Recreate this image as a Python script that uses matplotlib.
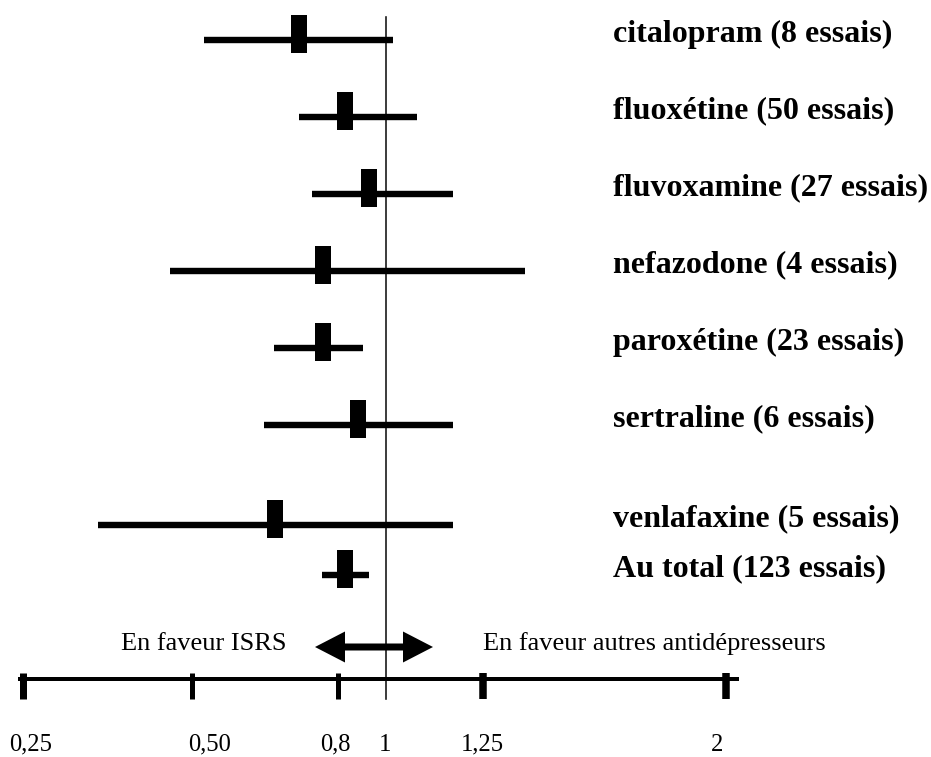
import numpy as np
import matplotlib
matplotlib.use("Agg")
import matplotlib.pyplot as plt
from matplotlib.path import Path
from matplotlib.patches import FancyArrowPatch
from matplotlib.ticker import NullLocator
from matplotlib.transforms import ScaledTranslation

# ---------------- data ----------------
drugs = ['citalopram', 'fluoxétine', 'fluvoxamine', 'nefazodone',
         'paroxétine', 'sertraline', 'venlafaxine', 'Au total']
n_trials = [8, 50, 27, 4, 23, 6, 5, 123]
estimate = [0.72, 0.83, 0.93, 0.77, 0.77, 0.885, 0.67, 0.83]
ci_low = [0.525, 0.72, 0.747, 0.467, 0.668, 0.648, 0.361, 0.767]
ci_high = [1.018, 1.08, 1.173, 1.38, 0.904, 1.173, 1.173, 0.929]
tick_vals = [0.25, 0.5, 0.8, 1.0, 1.25, 2.0]
tick_labels = ['0,25', '0,50', '0,8', '1', '1,25', '2']
left_note = 'En faveur ISRS'
right_note = 'En faveur autres antidépresseurs'

# ---------------- layout ----------------
W, H, DPI = 931, 757, 100
PX = 72.0 / DPI                      # points per pixel
row_pos = [0, 1, 2, 3, 4, 5, 6.3, 6.95]
ROW_PX = 77.0                        # pixels per row unit
ROW0_PX = 40.0                       # pixel y of row 0
AX_LEFT_PX, AX_RIGHT_PX, AX_BOTTOM_PX = 20, 737, 679

# hand-drawn (non-uniform) axis: piecewise-linear scale
scale_px = np.array([23, 192, 338, 386, 483, 726], float)
scale_v = np.array(tick_vals, float)
s0 = (scale_px[1] - scale_px[0]) / (scale_v[1] - scale_v[0])
s1 = (scale_px[-1] - scale_px[-2]) / (scale_v[-1] - scale_v[-2])


def fwd(v):
    v = np.asarray(v, float)
    out = np.interp(v, scale_v, scale_px)
    out = np.where(v < scale_v[0], scale_px[0] + (v - scale_v[0]) * s0, out)
    out = np.where(v > scale_v[-1], scale_px[-1] + (v - scale_v[-1]) * s1, out)
    return out


def inv(p):
    p = np.asarray(p, float)
    out = np.interp(p, scale_px, scale_v)
    out = np.where(p < scale_px[0], scale_v[0] + (p - scale_px[0]) / s0, out)
    out = np.where(p > scale_px[-1], scale_v[-1] + (p - scale_px[-1]) / s1, out)
    return out


def row_of_px(py):
    return (py - ROW0_PX) / ROW_PX


plt.rcParams['font.family'] = ['Liberation Serif', 'DejaVu Serif']

fig = plt.figure(figsize=(W / DPI, H / DPI), dpi=DPI)
ax = fig.add_axes([AX_LEFT_PX / W, (H - AX_BOTTOM_PX) / H,
                   (AX_RIGHT_PX - AX_LEFT_PX) / W, AX_BOTTOM_PX / H])
ax.set_xscale('function', functions=(fwd, inv))
ax.set_xlim(float(inv(AX_LEFT_PX)), float(inv(AX_RIGHT_PX)))
ax.set_ylim(row_of_px(AX_BOTTOM_PX), row_of_px(0))

for s in ['top', 'left', 'right']:
    ax.spines[s].set_visible(False)
ax.spines['bottom'].set_linewidth(4 * PX)
ax.spines['bottom'].set_color('black')
ax.set_yticks([])
ax.xaxis.set_minor_locator(NullLocator())
ax.set_xticks(tick_vals, labels=tick_labels)
ax.tick_params(axis='x', direction='out', length=20 * PX, width=5 * PX,
               pad=25, labelsize=17.7, colors='black')

# tick marks that poke slightly above the axis line
tick_marker = Path([(0, 0.3), (0, -1.0)], [Path.MOVETO, Path.LINETO])
tick_widths = [7, 5, 5, 0, 7.5, 7.5]
label_dx_px = [8, 18, -3, -1, -1, -9]
for tk, w, dx in zip(ax.xaxis.get_major_ticks(), tick_widths, label_dx_px):
    tk.tick1line.set_marker(tick_marker)
    tk.tick1line.set_markersize(40 * PX)
    tk.tick1line.set_markeredgewidth(w * PX)
    tk.tick1line.set_markeredgecolor('black')
    if w == 0:
        tk.tick1line.set_visible(False)
    tk.label1.set_transform(tk.label1.get_transform() +
                            ScaledTranslation(dx / DPI, 0, fig.dpi_scale_trans))

# reference line at 1
ax.axvline(1.0, ymin=(AX_BOTTOM_PX - 699) / AX_BOTTOM_PX,
           ymax=1 - 17 / AX_BOTTOM_PX,
           color='#111111', lw=1.6 * PX, clip_on=False, zorder=1)

# confidence intervals
ax.hlines(row_pos, ci_low, ci_high, colors='black', lw=6.4 * PX,
          capstyle='butt', zorder=3)

# point estimates as tall rectangles (sitting slightly above the line)
box = [(-8, -12.5), (8, -12.5), (8, 25.5), (-8, 25.5), (-8, -12.5)]
ax.plot(estimate, row_pos, ls='none', marker=box, ms=51 * PX,
        mfc='black', mec='black', mew=0, zorder=4)

# labels on the right
x_lab = float(inv(613))
for name, n, y in zip(drugs, n_trials, row_pos):
    ax.text(x_lab, y + 0.02, f'{name} ({n} essais)', fontsize=23,
            fontweight='bold', ha='left', va='baseline', color='black',
            clip_on=False)

# double arrow
y_arr = row_of_px(647)
x_mid = float(inv(374))
for x_end in (float(inv(315)), float(inv(433))):
    arr = FancyArrowPatch((x_mid, y_arr), (x_end, y_arr),
                          arrowstyle=f'simple,head_length={30*PX},'
                                     f'head_width={31*PX},tail_width={7*PX}',
                          mutation_scale=1, shrinkA=0, shrinkB=0,
                          color='black', lw=0, zorder=5)
    ax.add_patch(arr)

y_note = row_of_px(650)
ax.text(float(inv(287)), y_note, left_note, fontsize=19, ha='right',
        va='baseline', color='black')
ax.text(1.25, y_note, right_note, fontsize=19, ha='left',
        va='baseline', color='black')

fig.savefig('out.png', dpi=DPI)
